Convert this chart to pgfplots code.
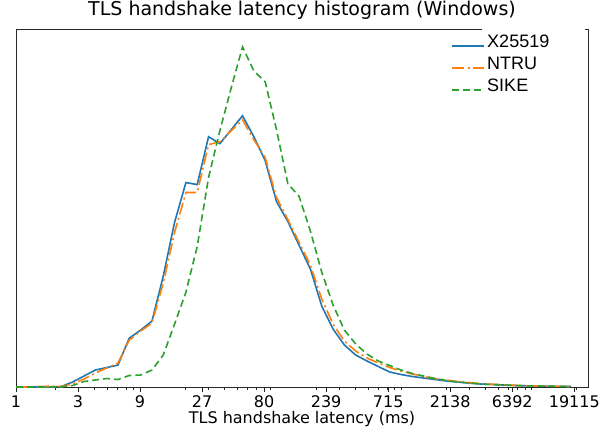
\documentclass[border=0pt]{standalone}
\usepackage{fontspec}
\setmainfont{DejaVu Sans}
\newfontfamily\legfont{Liberation Sans}
\usepackage{pgfplots}
\usepackage{pgfplotstable}
\pgfplotsset{compat=1.18}
\definecolor{mblue}{HTML}{1F77B4}
\definecolor{morange}{HTML}{FF7F0E}
\definecolor{mgreen}{HTML}{2CA02C}
\pgfplotstableread{
x X25519 NTRU SIKE
1.000 0 0 0
1.221 0 0 0
1.492 0 0.5 0
1.822 0 0.8 0
2.226 0.5 0.5 0
2.718 5 3 1.5
3.320 11 8 5.5
4.055 17 14 7
4.953 19.5 19 8.5
6.050 22 24 7.5
7.389 49 47 11.5
9.025 57 56 12
11.02 66 64 17
13.46 111 104 32
16.44 165 155 63
20.09 205 195 95
24.53 203 195 141
29.96 251 243 210
36.60 244 246 257
44.70 258 257 300
54.60 272 268 341
66.69 251 248 317
81.45 227 230 306
99.48 186 190 258
121.5 166 168 204
148.4 142 145 191
181.3 118 122 156
221.4 81 88 115
270.4 58 63 82
330.3 42 46 57
403.4 32 36 43
492.7 26 29 33
601.8 20.5 24 26
735.1 15 19.5 21.5
897.8 12.5 16 17
1096.6 10.5 13 13.5
1339.4 9 10.5 11
1636.0 7.5 8.5 8.5
1998.2 6 7 6.5
2440.6 5 5.5 5
2981.0 4 4.5 4
3641.0 3 3.5 3
4447.1 2.5 2.8 2.5
5431.7 2 2.2 2
6634.2 1.5 1.7 1.5
8103.1 1.2 1.3 1.2
9897.1 1 1 1
12088 0.8 0.8 0.8
14765 0.6 0.6 0.6
18034 0.5 0.5 0.5
}\histdata
\begin{document}
\begin{tikzpicture}
\begin{axis}[
  scale only axis, width=572pt, height=357pt,
  xmode=log, xmin=1, xmax=24350, ymin=0, ymax=358,
  axis line style={black!85, line width=1pt},
  ytick=\empty,
  xtick={1,2.990,8.941,26.74,79.94,239.0,714.9,2137.7,6392,19115},
  xticklabels={1,3,9,27,80,239,715,2138,6392,19115},
  minor xtick={2,3,4,5,6,7,8,9,20,30,40,50,60,70,80,90,200,300,400,500,600,700,800,900,2000,3000,4000,5000,6000,7000,8000,9000,20000},
  xtick pos=bottom, tick align=outside,
  major tick length=5pt, minor tick length=3pt,
  every tick/.style={black!85, line width=0.9pt},
  xticklabel style={font=\fontsize{16}{19}\selectfont},
  /pgf/number format/assume math mode=true,
  title={TLS handshake latency histogram (Windows)},
  title style={font=\fontsize{19}{23}\selectfont, at={(0.5,1)}, anchor=base, yshift=8pt},
  xlabel={TLS handshake latency (ms)},
  xlabel style={font=\fontsize{16}{19}\selectfont, at={(axis description cs:0.5,0)}, anchor=base, yshift=-36pt},
  legend style={draw=none, fill=none, font=\legfont\fontsize{18}{21.6}\selectfont,
    at={(axis description cs:0.756,1.0)}, anchor=north west,
    nodes={text height=13pt, text depth=5pt, inner sep=2pt}},
  legend cell align=left,
  legend image code/.code={\draw[#1] (0pt,-3pt) -- (32pt,-3pt);},
  clip=false,
]
\fill[white] (axis description cs:0.8147,0.985) rectangle (axis description cs:0.995,1.02);
\addplot[mblue, line width=1.6pt] table[x=x, y=X25519] {\histdata};
\addlegendentry{X25519}
\addplot[morange, line width=1.6pt, dash pattern=on 12pt off 3.5pt on 2pt off 3.5pt] table[x=x, y=NTRU] {\histdata};
\addlegendentry{NTRU}
\addplot[mgreen, line width=1.6pt, dash pattern=on 7pt off 4pt] table[x=x, y=SIKE] {\histdata};
\addlegendentry{SIKE}
\end{axis}
\pgfresetboundingbox
\path[use as bounding box] ([shift={(-16pt,-42pt)}]current axis.south west) rectangle ([shift={(11pt,30pt)}]current axis.north east);
\end{tikzpicture}
\end{document}
